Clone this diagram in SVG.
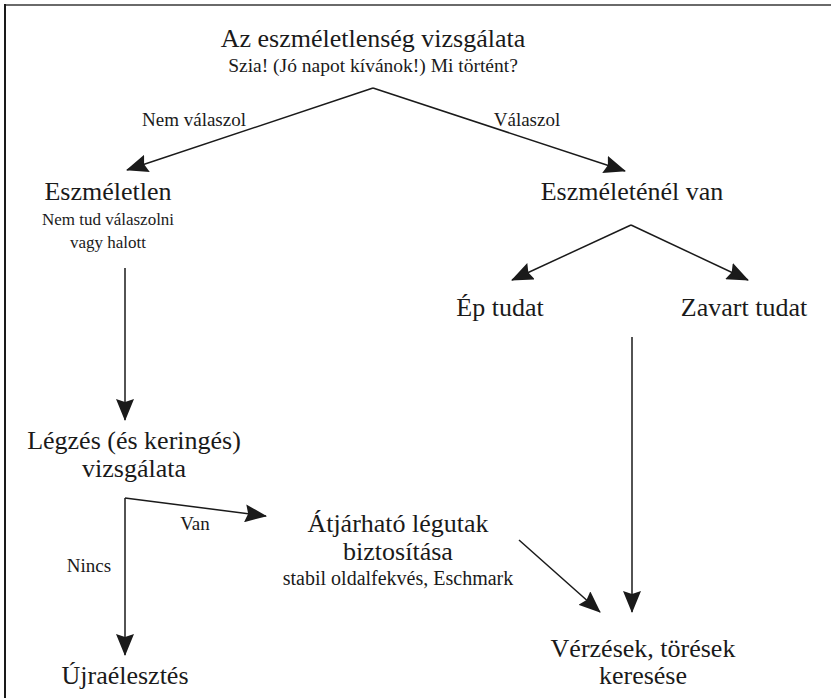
<svg xmlns="http://www.w3.org/2000/svg" width="831" height="698" viewBox="0 0 831 698" font-family="'Liberation Serif', 'Times New Roman', serif">
<style>
text{font-family:'Liberation Serif','Times New Roman',serif;fill:#1a1a1a;text-anchor:middle}
.big{font-size:26px}
.small{font-size:19.5px}
.sub{font-size:17px}
.stab{font-size:20px}
.lbl{font-size:19px}
.conn line{stroke:#1a1a1a;stroke-width:1.5;fill:none}
</style>
<defs>
<marker id="ah" markerUnits="userSpaceOnUse" viewBox="0 0 22 18" markerWidth="22" markerHeight="18" refX="21" refY="9" orient="auto">
<path d="M0,0 L22,9 L0,18 L3,9 z" fill="#1a1a1a"/>
</marker>
</defs>
<rect width="831" height="698" fill="#fff"/>
<g id="frame">
<line x1="4" y1="5" x2="831" y2="5" stroke="#6a6a6a" stroke-width="2"/>
<line x1="5" y1="4" x2="5" y2="698" stroke="#1a1a1a" stroke-width="2"/>
</g>
<g id="title">
<text class="big" x="373" y="47">Az eszméletlenség vizsgálata</text>
<text class="small" x="373" y="72">Szia! (Jó napot kívánok!) Mi történt?</text>
</g>
<g id="eszmeletlen">
<text class="big" x="108" y="200">Eszméletlen</text>
<text class="sub" x="108" y="225">Nem tud válaszolni</text>
<text class="sub" x="108" y="248">vagy halott</text>
</g>
<g id="eszmeletenel">
<text class="big" x="632" y="200">Eszméleténél van</text>
</g>
<g id="ep">
<text class="big" x="500" y="316">Ép tudat</text>
</g>
<g id="zavart">
<text class="big" x="744" y="316">Zavart tudat</text>
</g>
<g id="legzes">
<text class="big" x="134" y="449">Légzés (és keringés)</text>
<text class="big" x="134" y="477">vizsgálata</text>
</g>
<g id="atjarhato">
<text class="big" x="398" y="532">Átjárható légutak</text>
<text class="big" x="398" y="560">biztosítása</text>
<text class="stab" x="398" y="585">stabil oldalfekvés, Eschmark</text>
</g>
<g id="ujra">
<text class="big" x="125" y="684">Újraélesztés</text>
</g>
<g id="verzesek">
<text class="big" x="643" y="657">Vérzések, törések</text>
<text class="big" x="643" y="684">keresése</text>
</g>
<g id="connectors" class="conn">
<line x1="373" y1="88" x2="127" y2="170" marker-end="url(#ah)"/>
<line x1="373" y1="88" x2="625" y2="171" marker-end="url(#ah)"/>
<line x1="631" y1="225" x2="512" y2="280" marker-end="url(#ah)"/>
<line x1="631" y1="225" x2="748" y2="280" marker-end="url(#ah)"/>
<line x1="125" y1="268" x2="125" y2="420" marker-end="url(#ah)"/>
<line x1="125" y1="498" x2="125" y2="655" marker-end="url(#ah)"/>
<line x1="125" y1="498" x2="266" y2="516" marker-end="url(#ah)"/>
<line x1="519" y1="540" x2="600" y2="612" marker-end="url(#ah)"/>
<line x1="632" y1="337" x2="632" y2="612" marker-end="url(#ah)"/>
<text class="lbl" x="194" y="126">Nem válaszol</text>
<text class="lbl" x="527" y="126">Válaszol</text>
<text class="lbl" x="195" y="530">Van</text>
<text class="lbl" x="89" y="572">Nincs</text>
</g>
</svg>
